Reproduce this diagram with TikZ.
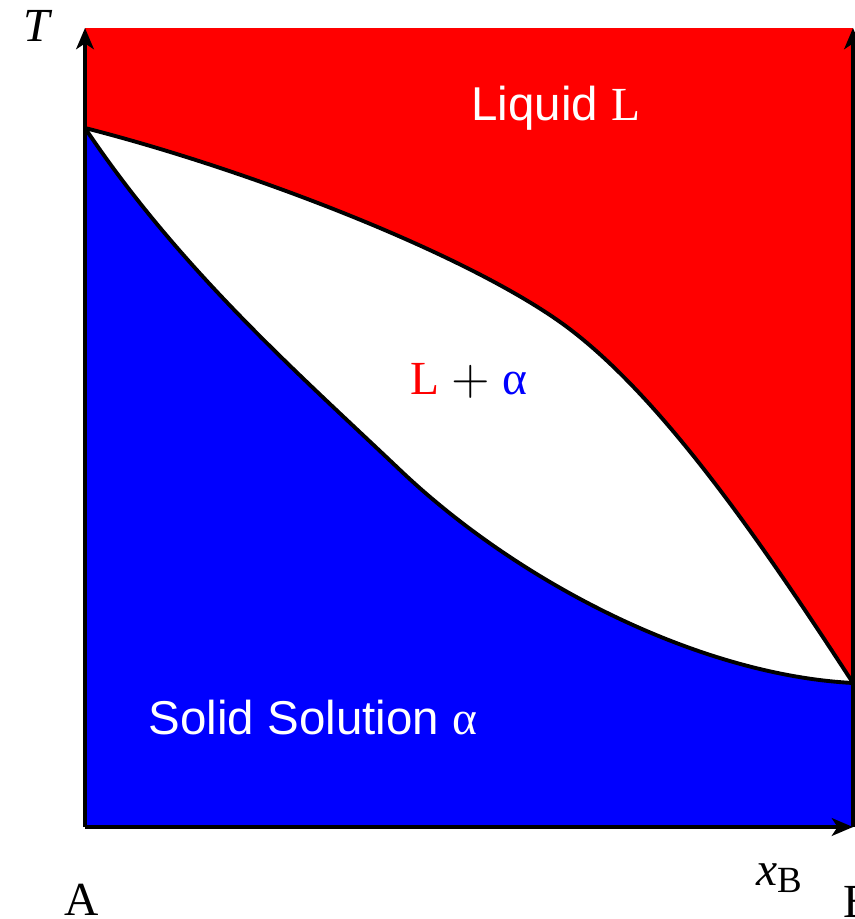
\documentclass[tikz,border=0pt]{standalone}
\usepackage{fontspec}
\setmainfont{Liberation Serif}
\setsansfont{Liberation Sans}
\usepackage{tikz}
\usetikzlibrary{arrows.meta}
\definecolor{liqred}{RGB}{255,0,0}
\definecolor{solblue}{RGB}{0,0,255}
\tikzset{
  axis/.style={-{Stealth[length=6pt,width=5pt,inset=1.6pt]}, line width=1.4pt, color=black},
  phaseline/.style={line width=1.1pt, color=black, line join=round},
  lbl/.style={font=\fontsize{13.5}{16}\selectfont, inner sep=0pt, anchor=base}
}

\begin{document}
\begin{tikzpicture}[x=0.01cm, y=-0.01cm]
  \useasboundingbox (0,0) rectangle (854,919);

  % corners of the diagram
  \coordinate (O) at (85,827);
  \coordinate (Tmax) at (85,28);
  \coordinate (Xmax) at (853,827);
  \coordinate (Ttop) at (853,28);
  \coordinate (Amelt) at (85,128);
  \coordinate (Bmelt) at (853,683);
  \coordinate (liqmid) at (567,327);
  \coordinate (solmid) at (400,470);

  % Liquid region (whole box first)
  \fill[liqred] (Tmax) rectangle (Xmax);

  % two-phase lens: everything below the liquidus
  \fill[white] (Amelt) .. controls (250,170) and (470,255) .. (liqmid)
    .. controls (662,398) and (760,540) .. (Bmelt) -- (Xmax) -- (O) -- cycle;

  % Solid solution: everything below the solidus
  \fill[solblue] (Amelt) .. controls (180,270) and (300,375) .. (solmid)
    .. controls (520,584) and (700,675) .. (Bmelt) -- (Xmax) -- (O) -- cycle;

  % liquidus and solidus
  \draw[phaseline] (Amelt) .. controls (250,170) and (470,255) .. (liqmid)
    .. controls (662,398) and (760,540) .. (Bmelt);
  \draw[phaseline] (Amelt) .. controls (180,270) and (300,375) .. (solmid)
    .. controls (520,584) and (700,675) .. (Bmelt);

  % axes
  \draw[axis] (O) -- (Tmax);
  \draw[axis] (O) -- (Xmax);
  \draw[axis] (Xmax) -- (Ttop);

  % labels
  \node[lbl, text=white] (liq) at (556,121) {\sffamily Liquid \rmfamily L};
  \node[lbl] (mix) at (469,395) {\textcolor{liqred}{L} $+$ \textcolor{solblue}{α}};
  \node[lbl, text=white] (sol) at (313,734) {\sffamily Solid Solution \rmfamily α};
  \node[lbl] (tlab) at (37,42) {\itshape T};
  \node[lbl] (xlab) at (779,885) {\itshape x\upshape\raisebox{-0.35ex}{\fontsize{10.5}{12}\selectfont B}};
  \node[lbl] (alab) at (82,915) {A};
  \node[lbl, anchor=base west] (blab) at (843,917) {B};
\end{tikzpicture}
\end{document}
